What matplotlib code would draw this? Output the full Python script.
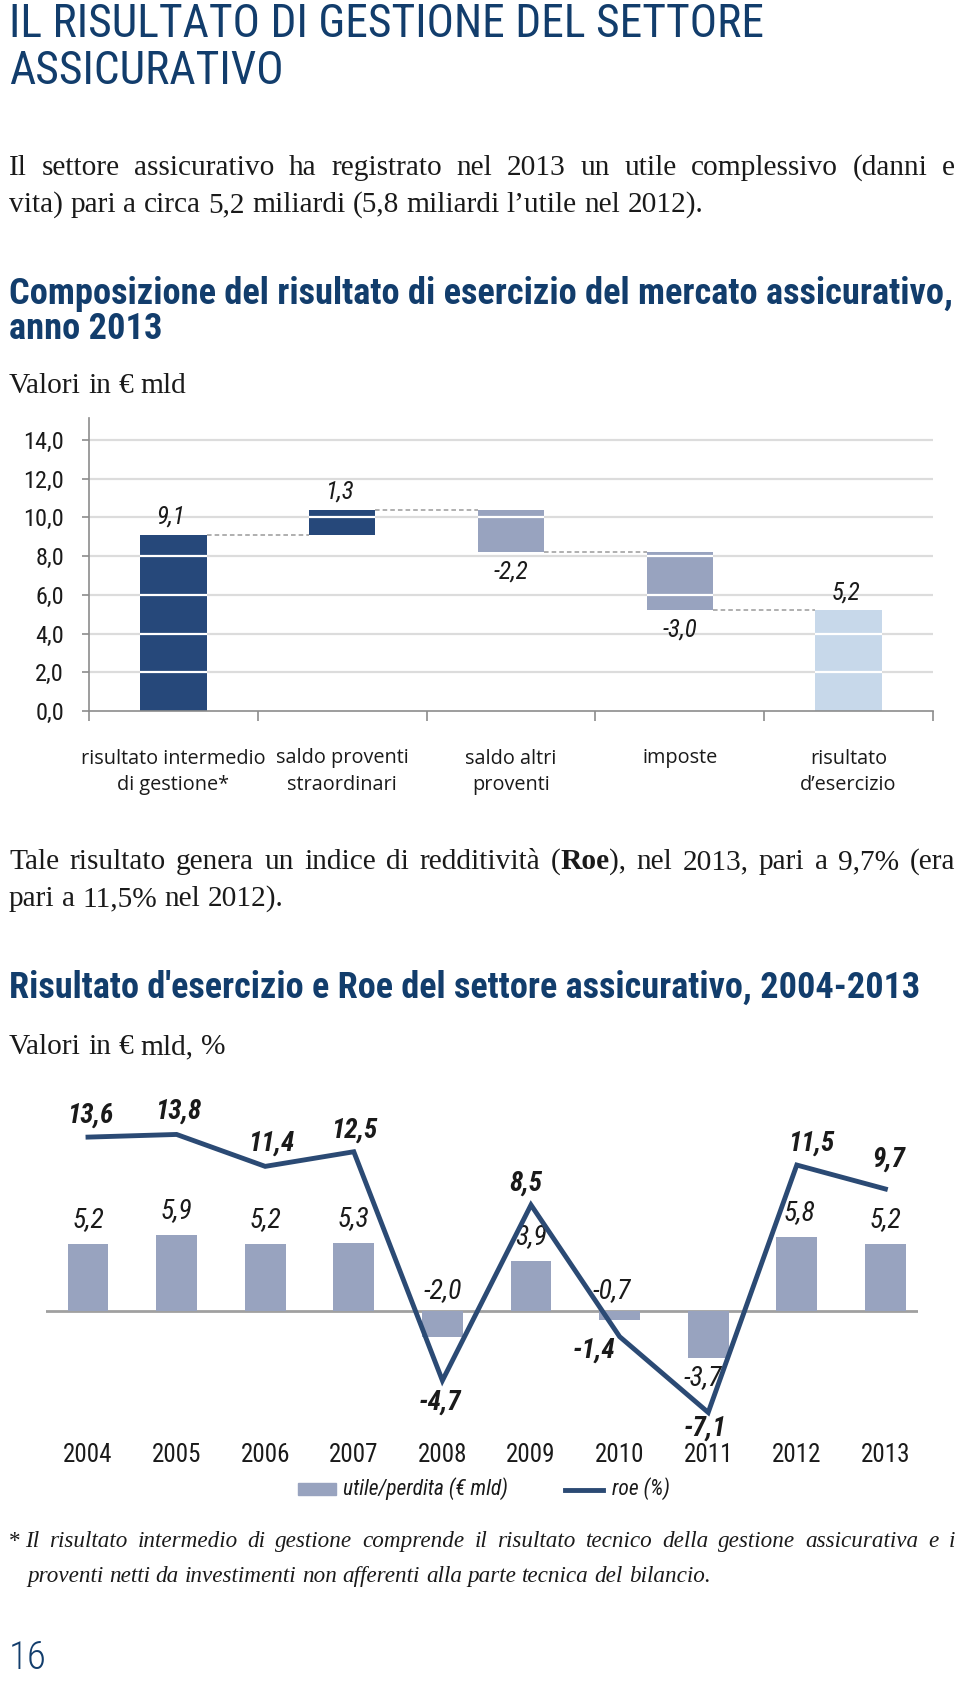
import numpy as np
import matplotlib
matplotlib.use('Agg')
import matplotlib.pyplot as plt
from matplotlib.patches import Rectangle
from matplotlib.lines import Line2D
from matplotlib.transforms import ScaledTranslation

# composizione del risultato di esercizio 2013 (EUR mld)
comp_labels = ['risultato intermedio\ndi gestione*', 'saldo proventi\nstraordinari',
               'saldo altri\nproventi', 'imposte', 'risultato\nd\u2019esercizio']
comp_steps = [9.1, 1.3, -2.2, -3.0]
comp_total = 5.2
comp_yticks = [0, 2, 4, 6, 8, 10, 12, 14]

# risultato d'esercizio e Roe 2004-2013
years = ['2004', '2005', '2006', '2007', '2008', '2009', '2010', '2011', '2012', '2013']
utile = [5.2, 5.9, 5.2, 5.3, -2.0, 3.9, -0.7, -3.7, 5.8, 5.2]
roe = [13.6, 13.8, 11.4, 12.5, -4.7, 8.5, -1.4, -7.1, 11.5, 9.7]

W, H = 960, 1682
NAVY = '#123d6c'
TEXT = '#1a1a1a'
DARK = '#26487a'
MID = '#98a3bf'
LIGHT = '#c7d8ea'
LINE = '#2b4a74'
NARROW = ['Roboto Condensed', 'Roboto', 'DejaVu Sans']
SERIF = ['Liberation Serif', 'DejaVu Serif']

fig = plt.figure(figsize=(W / 100, H / 100), dpi=100)
renderer = fig.canvas.get_renderer()


def fmt(v):
    return f'{v:.1f}'.replace('.', ',')


def width_of(s, **kw):
    t = fig.text(0, 0, s, **kw)
    w = t.get_window_extent(renderer).width
    t.remove()
    return w


def fit_text(x, y, s, target, **kw):
    w = width_of(s, fontsize=20, **kw)
    size = 20 * target / w
    fig.text(x / W, 1 - y / H, s, fontsize=size, va='baseline', **kw)
    return size


def words_of(s):
    return [[(w, 'normal')] for w in s.split(' ')]


def text_line(x0, y, words, size, family, style='normal', x1=None, color=TEXT):
    kw = dict(fontsize=size, family=family, style=style)
    widths = [sum(width_of(s, weight=wt, **kw) for s, wt in word) for word in words]
    if x1 is None:
        gap = width_of('a a', **kw) - width_of('aa', **kw)
    else:
        gap = (x1 - x0 - sum(widths)) / (len(words) - 1)
    x = x0
    for word in words:
        for s, wt in word:
            t = fig.text(x / W, 1 - y / H, s, weight=wt, va='baseline', color=color, **kw)
            x += t.get_window_extent(renderer).width
        x += gap


def natural_size(s, target, family, style='normal'):
    kw = dict(fontsize=20, family=family, style=style)
    words = s.split(' ')
    gap = width_of('a a', **kw) - width_of('aa', **kw)
    w = sum(width_of(x, **kw) for x in words) + gap * (len(words) - 1)
    return 20 * target / w


# ---------------- header texts
ts = fit_text(9, 37, 'IL RISULTATO DI GESTIONE DEL SETTORE', 755, family=NARROW, color=NAVY)
fig.text(9 / W, 1 - 84 / H, 'ASSICURATIVO', fontsize=ts, family=NARROW, color=NAVY, va='baseline')

p1a = 'Il settore assicurativo ha registrato nel 2013 un utile complessivo (danni e'
p1b = 'vita) pari a circa 5,2 miliardi (5,8 miliardi l\u2019utile nel 2012).'
p2a = 'Tale risultato genera un indice di redditivit\u00e0 (Roe), nel 2013, pari a 9,7% (era'
p2b = 'pari a 11,5% nel 2012).'
ps = min(natural_size(p1b, 698, SERIF), natural_size(p1a, 935, SERIF),
         natural_size(p2b, 295, SERIF), natural_size(p2a, 940, SERIF))
text_line(9, 175, words_of(p1a), ps, SERIF, x1=955)
text_line(9, 212, words_of(p1b), ps, SERIF)

bs = fit_text(9, 304, 'Composizione del risultato di esercizio del mercato assicurativo,', 940,
              family=NARROW, weight='bold', color=NAVY)
fig.text(9 / W, 1 - 339 / H, 'anno 2013', fontsize=bs, family=NARROW, weight='bold',
         color=NAVY, va='baseline')
text_line(9, 393, words_of('Valori in \u20ac mld'), ps, SERIF)

# ---------------- chart 1: waterfall
ax1 = fig.add_axes([89 / W, 1 - 711 / H, (933 - 89) / W, (711 - 418) / H])
levels = np.concatenate([[0], np.cumsum(comp_steps)])
bottoms = [min(levels[i], levels[i + 1]) for i in range(len(comp_steps))] + [0]
heights = [abs(v) for v in comp_steps] + [comp_total]
colors = [DARK if v > 0 else MID for v in comp_steps] + [LIGHT]
xs = np.arange(len(comp_labels))
bw = 0.394
for lv in comp_yticks[1:]:
    ax1.axhline(lv, color='#dcdcdc', lw=1.6, zorder=0)
ax1.bar(xs, heights, bw, bottom=bottoms, color=colors, zorder=2)
for x, b, h in zip(xs, bottoms, heights):
    for lv in comp_yticks[1:]:
        if b < lv < b + h:
            ax1.hlines(lv, x - bw / 2, x + bw / 2, color='white', lw=1.6, zorder=3)
ends = list(levels[1:]) + [comp_total]
for i in range(len(xs) - 1):
    ax1.hlines(ends[i], xs[i] + bw / 2, xs[i + 1] - bw / 2, color='#9a9a9a', lw=1.1,
               linestyles=(0, (3, 2)), zorder=1)
vals = comp_steps + [comp_total]
for x, v, b, h in zip(xs, vals, bottoms, heights):
    if v > 0:
        ax1.annotate(fmt(v), (x, b + h), xytext=(-3, 18), textcoords='offset pixels',
                     ha='center', va='center', fontsize=18, style='italic', family=NARROW, color=TEXT)
    else:
        ax1.annotate(fmt(v), (x, b), xytext=(0, -19), textcoords='offset pixels',
                     ha='center', va='center', fontsize=18, style='italic', family=NARROW, color=TEXT)
ax1.set_xlim(-0.5, len(xs) - 0.5)
ax1.set_ylim(0, 15.13)
ax1.set_yticks(comp_yticks)
ax1.set_yticklabels([fmt(v) for v in comp_yticks], family=NARROW, fontsize=17.5, color=TEXT)
ax1.set_xticks(np.arange(len(xs) + 1) - 0.5)
ax1.set_xticklabels([])
ax1.set_xticks(xs, minor=True)
cat = ax1.set_xticklabels(comp_labels, minor=True, family=['Open Sans', 'DejaVu Sans'],
                          fontsize=14.3, color=TEXT, linespacing=1.45)
# first label sits a little to the left in the original
cat[0].set_transform(cat[0].get_transform() + ScaledTranslation(-0.07, 0, fig.dpi_scale_trans))
ax1.tick_params(axis='x', which='minor', length=0, pad=27)
ax1.tick_params(axis='x', which='major', length=7, color='#8c8c8c', width=1.2)
ax1.tick_params(axis='y', length=5, color='#8c8c8c', width=1.2, pad=13)
for s in ['top', 'right']:
    ax1.spines[s].set_visible(False)
for s in ['left', 'bottom']:
    ax1.spines[s].set_color('#8c8c8c')
    ax1.spines[s].set_linewidth(1.2)

# ---------------- middle paragraph
line2 = words_of('Tale risultato genera un indice di redditivit\u00e0')
line2 += [[('(', 'normal'), ('Roe', 'bold'), ('),', 'normal')]]
line2 += words_of('nel 2013, pari a 9,7% (era')
text_line(9, 869, line2, ps, SERIF, x1=955)
text_line(9, 906, words_of(p2b), ps, SERIF)

fit_text(9, 998, 'Risultato d\'esercizio e Roe del settore assicurativo, 2004-2013', 911,
         family=NARROW, weight='bold', color=NAVY)
text_line(9, 1054, words_of('Valori in \u20ac mld, %'), ps, SERIF)

# ---------------- chart 2: bars + roe line
ax2 = fig.add_axes([46 / W, 1 - 1430 / H, (918 - 46) / W, (1430 - 1100) / H])
x2 = np.arange(len(years))
ax2.bar(x2, utile, 0.46, color=MID, zorder=2)
ax2.axhline(0, color='#a0a0a0', lw=2, zorder=1)
ax2.set_xlim(-0.474, 9.368)
ax2.set_ylim(-9.30, 16.48)
ax3 = ax2.twinx()
ax3.plot(x2, roe, color=LINE, lw=3.5, solid_joinstyle='miter')
ax3.set_ylim(-8.42, 16.39)
ax3.set_xlim(-0.474, 9.368)

bar_off = [(0, 24), (0, 24), (0, 24), (0, 24), (0, 0), (0, 24), (-8, 0), (-5, -20), (3, 24), (0, 24)]
for x, v, (dx, dy) in zip(x2, utile, bar_off):
    y = v
    if dy == 0:
        y, dy = 0, 20
    ax2.annotate(fmt(v), (x, y), xytext=(dx, dy), textcoords='offset pixels', ha='center',
                 va='center', fontsize=20, style='italic', family=NARROW, color=TEXT, zorder=4)
roe_off = [(2, 22), (2, 23), (6, 23), (0, 22), (-2, -22), (-5, 22), (-26, -14), (-3, -16),
           (14, 22), (3, 30)]
for x, v, (dx, dy) in zip(x2, roe, roe_off):
    ax3.annotate(fmt(v), (x, v), xytext=(dx, dy), textcoords='offset pixels', ha='center',
                 va='center', fontsize=19.5, style='italic', weight='bold', family=NARROW, color=TEXT)

ax2.set_xticks(x2)
ax2.set_xticklabels(years, family=NARROW, fontsize=18, color=TEXT)
ax2.tick_params(axis='x', length=0, pad=9)
ax2.set_yticks([])
ax3.set_yticks([])
for a in (ax2, ax3):
    for s in a.spines.values():
        s.set_visible(False)
    a.patch.set_visible(False)

# legend
fig.patches.append(Rectangle((298 / W, 1 - 1495 / H), 38 / W, 12 / H, color=MID,
                             transform=fig.transFigure))
fig.text(343 / W, 1 - 1489 / H, 'utile/perdita (\u20ac mld)', fontsize=15.5, style='italic',
         family=NARROW, color=TEXT, va='center')
fig.lines.append(Line2D([565 / W, 603 / W], [1 - 1490 / H] * 2, color=LINE, lw=3.5,
                        transform=fig.transFigure))
fig.text(612 / W, 1 - 1489 / H, 'roe (%)', fontsize=15.5, style='italic', family=NARROW,
         color=TEXT, va='center')

# ---------------- footnote and page number
f1 = 'Il risultato intermedio di gestione comprende il risultato tecnico della gestione assicurativa e i'
f2 = 'proventi netti da investimenti non afferenti alla parte tecnica del bilancio.'
fs = min(natural_size(f2, 685, SERIF, style='italic'), natural_size(f1, 915, SERIF, style='italic'))
fig.text(9 / W, 1 - 1547 / H, '*', fontsize=fs, family=SERIF, color=TEXT, va='baseline')
text_line(25, 1547, words_of(f1), fs, SERIF, style='italic', x1=955)
text_line(27, 1582, words_of(f2), fs, SERIF, style='italic')
fig.text(9 / W, 1 - 1669 / H, '16', fontsize=28, family=NARROW, weight='light', color=NAVY,
         va='baseline')

fig.savefig('out.png', dpi=100, facecolor='white')
